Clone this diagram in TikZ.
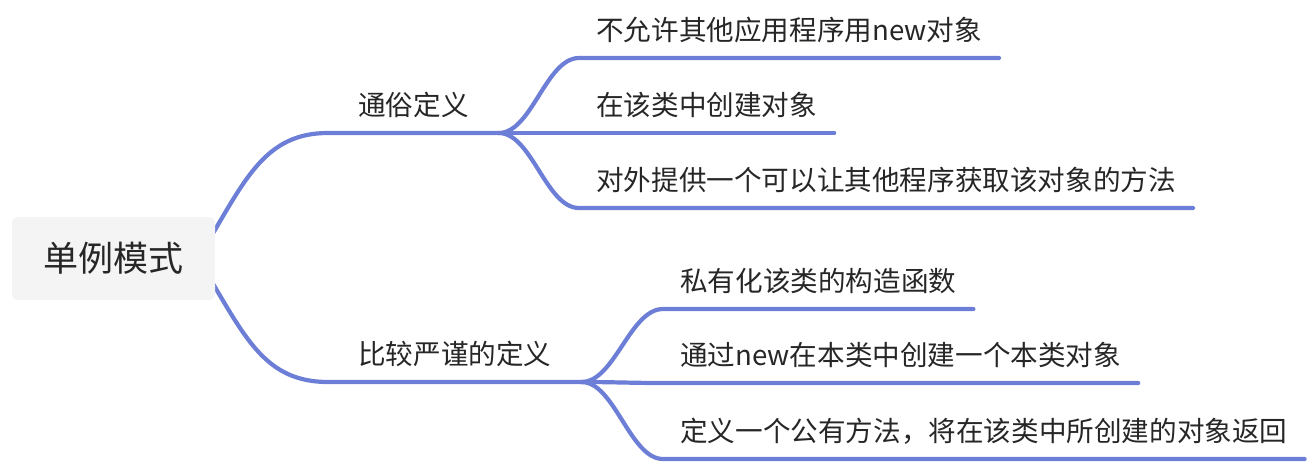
\documentclass[tikz,border=0pt]{standalone}
\usepackage{fontspec}
\setmainfont{Noto Sans CJK SC}
\usetikzlibrary{backgrounds}
\definecolor{branchblue}{RGB}{108,126,214}
\definecolor{rootgray}{RGB}{244,244,244}
\definecolor{textdark}{RGB}{38,38,38}

\begin{document}
\begin{tikzpicture}[
  x=1pt,y=-1pt,
  rootbox/.style={fill=rootgray,rounded corners=5pt,minimum width=203pt,minimum height=83pt,text=textdark,font=\fontsize{35}{40}\selectfont},
  topic/.style={anchor=south west,inner xsep=30pt,inner ysep=12pt,text height=21pt,text depth=5pt,text=textdark,font=\fontsize{27.6}{32}\selectfont},
  subtopic/.style={topic,inner xsep=17pt},
  link/.style={draw=branchblue,line width=4.2pt,line cap=round},
]
  \useasboundingbox (0,0) rectangle (1316,464);

  \node[rootbox] (root) at (113.5,258.5) {单例模式};

  \node[topic] (easy) at (328,133) {通俗定义};
  \node[topic] (strict) at (328,382) {比较严谨的定义};

  \node[subtopic] (e1) at (579,58) {不允许其他应用程序用new对象};
  \node[subtopic] (e2) at (579,133) {在该类中创建对象};
  \node[subtopic] (e3) at (579,208) {对外提供一个可以让其他程序获取该对象的方法};

  \node[subtopic] (s1) at (663,309) {私有化该类的构造函数};
  \node[subtopic] (s2) at (663,383) {通过new在本类中创建一个本类对象};
  \node[subtopic] (s3) at (663,459) {定义一个公有方法，将在该类中所创建的对象返回};

  \begin{pgfonlayer}{background}
    \draw[link] ([shift={(-10,-12)}]root.east) .. controls +(40,-67) and +(-63,0) .. (easy.south west) -- (easy.south east);
    \draw[link] ([shift={(-10,12)}]root.east) .. controls +(40,67) and +(-63,0) .. (strict.south west) -- (strict.south east);
    \foreach \c in {e1,e2,e3}
      \draw[link] (easy.south east) .. controls +(33,0) and +(-33,0) .. (\c.south west) -- (\c.south east);
    \foreach \c in {s1,s2,s3}
      \draw[link] (strict.south east) .. controls +(33,0) and +(-33,0) .. (\c.south west) -- (\c.south east);
  \end{pgfonlayer}
\end{tikzpicture}
\end{document}
